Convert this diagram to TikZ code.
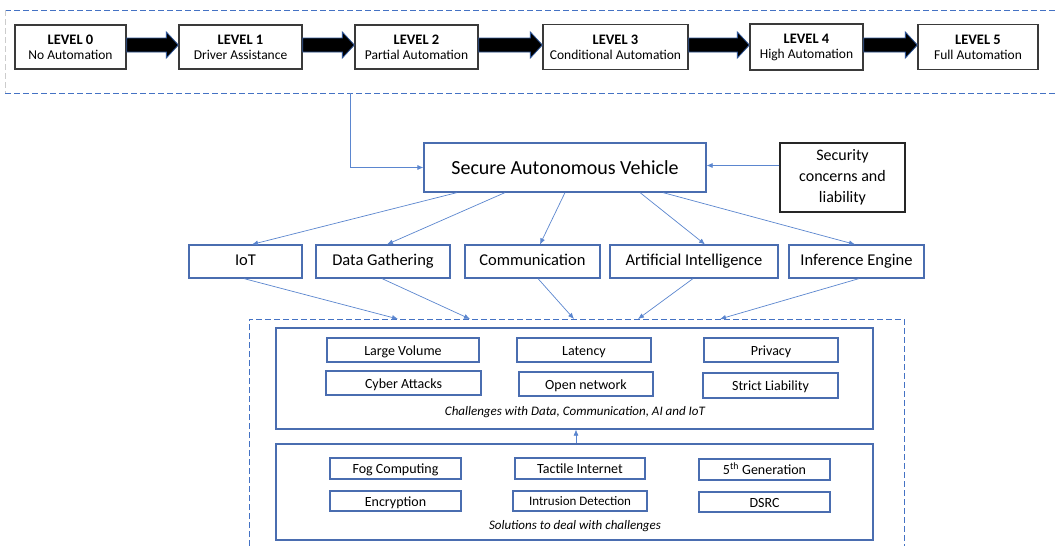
\documentclass[tikz,border=0pt]{standalone}
\usepackage{fontspec}
\setmainfont{Carlito}
\usetikzlibrary{arrows.meta,calc}
\definecolor{lvlgray}{HTML}{3A3A3A}
\definecolor{secgray}{HTML}{262626}
\definecolor{boxblue}{HTML}{4A6DB0}
\definecolor{connblue}{HTML}{5B86CF}
\definecolor{dashblue}{HTML}{4472C4}
\definecolor{arrowedge}{HTML}{2F5597}
\newcommand\blkarrow[2]{%
  \draw[fill=black, draw=arrowedge, line width=0.8pt, line join=miter]
    ($(#1.east)+(0,-9)$) -- ($(#2.west)+(-12,-9)$) -- ($(#2.west)+(-12,-15)$) --
    ($(#2.west)+(0,-2)$) -- ($(#2.west)+(-12,11)$) -- ($(#2.west)+(-12,5)$) --
    ($(#1.east)+(0,5)$) -- cycle;}
\newcommand\lvltxt[2]{{\fontsize{14.5}{15}\selectfont\bfseries #1}\\#2}
\tikzset{
  wh/.style 2 args={minimum width=#1, minimum height=#2},
  lvl/.style={draw=lvlgray, line width=1.3pt, inner sep=0pt, align=center,
    font=\fontsize{13.5}{15}\selectfont},
  bx/.style={draw=boxblue, line width=1.2pt, inner sep=0pt, align=center},
  mid/.style={bx, font=\fontsize{16.5}{19}\selectfont, text height=12pt, text depth=4pt},
  small/.style={bx, font=\fontsize{14}{16}\selectfont, text height=13pt, text depth=3pt},
  captxt/.style={inner sep=0pt, font=\fontsize{13}{15}\selectfont\itshape},
  conn/.style={draw=connblue, line width=0.7pt, -{Latex[length=6pt,width=5pt]}},
  dsh/.style={draw=dashblue, line width=0.8pt, dash pattern=on 6pt off 3pt},
}
\begin{document}
\begin{tikzpicture}[x=1pt,y=-1pt]
\useasboundingbox[fill=white] (0,0) rectangle (1055,546);

% top dashed frame
\draw[dsh] (5,10) -- (1055,10);
\draw[dsh] (5,93) -- (1055,93);
\draw[draw=gray!40, line width=0.8pt, dash pattern=on 6pt off 3pt] (5,10) -- (5,93);

% levels
\node[lvl, wh={111pt}{44pt}] (l0) at (70.5,47) {\lvltxt{LEVEL 0}{No Automation}};
\node[lvl, wh={123pt}{44pt}] (l1) at (240.5,47) {\lvltxt{LEVEL 1}{Driver Assistance}};
\node[lvl, wh={123pt}{44pt}] (l2) at (416.5,47) {\lvltxt{LEVEL 2}{Partial Automation}};
\node[lvl, wh={145pt}{45pt}] (l3) at (615.5,47) {\lvltxt{LEVEL 3}{Conditional Automation}};
\node[lvl, wh={113pt}{46pt}] (l4) at (806.5,47) {\lvltxt{LEVEL 4}{High Automation}};
\node[lvl, wh={120pt}{45pt}] (l5) at (978,47) {\lvltxt{LEVEL 5}{Full Automation}};
\blkarrow{l0}{l1}
\blkarrow{l1}{l2}
\blkarrow{l2}{l3}
\blkarrow{l3}{l4}
\blkarrow{l4}{l5}

% secure autonomous vehicle
\node[bx, wh={282pt}{49pt}, font=\fontsize{20}{24}\selectfont, text height=16pt, text depth=3pt] (sav) at (565,167.5) {Secure Autonomous Vehicle};
\node[draw=secgray, line width=1.3pt, inner sep=0pt, align=center, wh={125pt}{69pt},
  font=\fontsize{16}{21}\selectfont] (sec) at (842.5,177.5) {Security\\concerns and\\liability};
\coordinate (t) at (350,93);
\draw[conn] (t) |- (sav.west);
\coordinate (s1) at ([yshift=12pt]sec.west);
\draw[conn] (s1) -- (s1 -| sav.east);

% second row
\node[mid, wh={113pt}{33pt}] (iot) at (245.5,261.5) {IoT};
\node[mid, wh={134pt}{33pt}] (dg) at (383,261.5) {Data Gathering};
\node[mid, wh={135pt}{33pt}] (com) at (532.5,261.5) {Communication};
\node[mid, wh={168pt}{33pt}] (ai) at (694,261.5) {Artificial Intelligence};
\node[mid, wh={135pt}{33pt}] (ie) at (856.5,261.5) {Inference Engine};

\draw[conn] ([xshift=-108pt]sav.south) -- ([xshift=6.5pt]iot.north);
\draw[conn] ([xshift=-60pt]sav.south) -- ([xshift=4pt]dg.north);
\draw[conn] (sav.south) -- ([xshift=7.5pt]com.north);
\draw[conn] ([xshift=75pt]sav.south) -- ([xshift=11pt]ai.north);
\draw[conn] ([xshift=98pt]sav.south) -- ([xshift=-1.5pt]ie.north);

% lower dashed frame
\draw[dsh] (249,546) -- (249,319) -- (904,319) -- (904,546);
\coordinate (d1) at (398,319);
\coordinate (d2) at (470,319);
\coordinate (d3) at (574,319);
\coordinate (d4) at (638,319);
\coordinate (d5) at (720,319);
\draw[conn] ([xshift=-1.5pt]iot.south) -- (d1);
\draw[conn] ([xshift=-1pt]dg.south) -- (d2);
\draw[conn] ([xshift=5.5pt]com.south) -- (d3);
\draw[conn] ([xshift=-1pt]ai.south) -- (d4);
\draw[conn] ([xshift=2.5pt]ie.south) -- (d5);

% challenges
\node[bx, wh={597pt}{101pt}] (chal) at (574.5,378.5) {};
\node[small, wh={152pt}{24pt}] (lv) at (403,350) {Large Volume};
\node[small, wh={134pt}{24pt}] (lat) at (584,350) {Latency};
\node[small, wh={134pt}{24pt}] (pri) at (771,350) {Privacy};
\node[small, wh={155pt}{24pt}] (ca) at (403.5,383) {Cyber Attacks};
\node[small, wh={134pt}{24pt}] (on) at (586,384) {Open network};
\node[small, wh={135pt}{25pt}] (sl) at (770.5,385.5) {Strict Liability};
\node[captxt] (c1) at (575,412) {Challenges with Data, Communication, AI and IoT};

% solutions
\node[bx, wh={597pt}{96pt}] (sol) at (574.5,492) {};
\node[small, wh={131pt}{21pt}] (fog) at (395.5,468.5) {Fog Computing};
\node[small, wh={130pt}{21pt}] (ti) at (580,468.5) {Tactile Internet};
\node[small, wh={131pt}{21pt}] (fg) at (764.5,469.5) {5\textsuperscript{th} Generation};
\node[small, wh={131pt}{20pt}] (enc) at (395.5,501) {Encryption};
\node[bx, wh={134pt}{20pt}, font=\fontsize{13}{15}\selectfont, text height=12pt, text depth=3pt] (idt) at (580,501) {Intrusion Detection};
\node[small, wh={131pt}{20pt}] (dsrc) at (764.5,502) {DSRC};
\node[captxt] (c2) at (575,526) {Solutions to deal with challenges};

\draw[conn] ([xshift=1.5pt]sol.north) -- ([xshift=1.5pt]chal.south);
\end{tikzpicture}
\end{document}
